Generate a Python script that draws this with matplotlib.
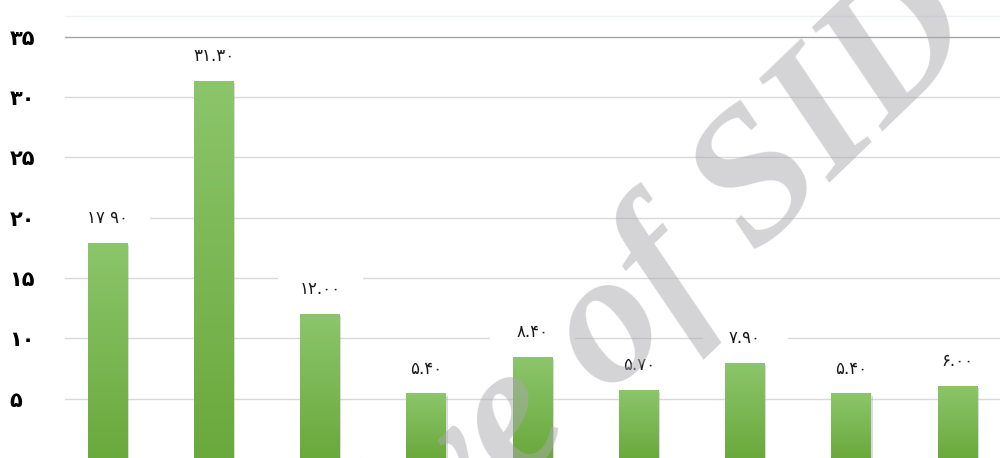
import numpy as np
import matplotlib
matplotlib.use('Agg')
import matplotlib.pyplot as plt
from matplotlib.colors import LinearSegmentedColormap
from matplotlib.patches import Rectangle

plt.rcParams['font.family'] = ['DejaVu Sans', 'Noto Sans']

values = [17.90, 31.30, 12.00, 5.40, 8.40, 5.70, 7.90, 5.40, 6.00]
value_labels = ['۱۷ ۹۰', '۳۱.۳۰', '۱۲.۰۰', '۵.۴۰', '۸.۴۰', '۵.۷۰', '۷.۹۰', '۵.۴۰', '۶.۰۰']
yticks = [0, 5, 10, 15, 20, 25, 30, 35]
ytick_labels = ['۰', '۵', '۱۰', '۱۵', '۲۰', '۲۵', '۳۰', '۳۵']

W, H = 1000, 458
fig = plt.figure(figsize=(W / 100, H / 100), dpi=100)
ax = fig.add_axes([65 / W, -1 / H, 935 / W, 444 / H])
ax.set_xlim(-0.4, 8.4)
ax.set_ylim(0, 36.8)

for s in ax.spines.values():
    s.set_visible(False)
ax.tick_params(axis='x', bottom=False, labelbottom=False)
ax.tick_params(axis='y', length=0, pad=40)
ax.set_yticks(yticks)
ax.set_yticklabels(ytick_labels, fontsize=15, fontweight='bold', ha='left')

# grid
for t in yticks[1:-1]:
    ax.axhline(t, color='#d9d9d9', lw=1, zorder=1)
ax.axhline(35, color='#a6a6a6', lw=1, zorder=1)
ax.axhline(36.75, color='#eef2f5', lw=1, zorder=1)

cmap = LinearSegmentedColormap.from_list('g', ['#6aa93c', '#8cc56b'])
grad = np.linspace(0, 1, 256).reshape(-1, 1)
bw = 0.376
for i, v in enumerate(values):
    # soft shadow
    ax.add_patch(Rectangle((i - bw / 2 + 0.012, 0), bw, v - 0.15, color='#9a9a9a',
                           alpha=0.35, lw=0, zorder=2))
    ax.imshow(grad, extent=[i - bw / 2, i + bw / 2, 0, v], origin='lower',
              cmap=cmap, aspect='auto', zorder=3, interpolation='bilinear')
    # label background
    ly = v + 2.1
    ax.add_patch(Rectangle((i - 0.4, ly - 1.33), 0.8, 2.66, color='white', lw=0, zorder=1.5))
    ax.text(i, ly, value_labels[i], ha='center', va='center', fontsize=12, color='#1a1a1a', zorder=5)

ax.set_xlim(-0.4, 8.4)
ax.set_ylim(0, 36.8)

# watermark
fig.text(985 / W, 1 - 42 / H, 'Archive of SID', fontsize=136, family='Liberation Serif',
         style='italic', fontweight='bold', color='#a9a9ad', alpha=0.5, rotation=44,
         rotation_mode='anchor', ha='right', va='baseline', zorder=10)

fig.savefig('out.png', dpi=100)
